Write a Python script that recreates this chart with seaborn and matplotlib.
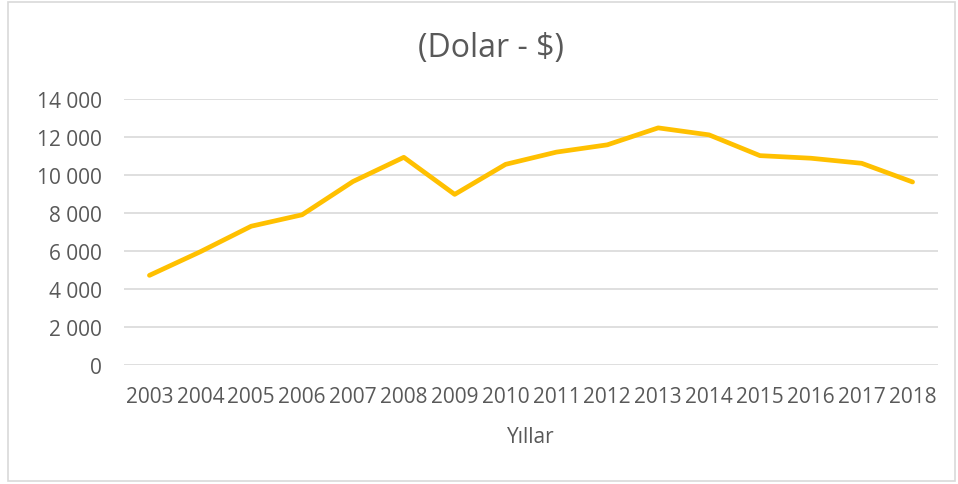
import matplotlib
matplotlib.use("Agg")
import matplotlib.pyplot as plt
import matplotlib.ticker as mticker
import seaborn as sns
import pandas as pd

years = ["2003", "2004", "2005", "2006", "2007", "2008", "2009", "2010",
         "2011", "2012", "2013", "2014", "2015", "2016", "2017", "2018"]
values = [4718, 5961, 7304, 7906, 9656, 10931, 8980, 10560,
          11205, 11588, 12480, 12112, 11019, 10883, 10616, 9632]
y_ticks = [0, 2000, 4000, 6000, 8000, 10000, 12000, 14000]
title = "(Dolar - $)"
xlabel = "Yıllar"

sns.set_theme(style="white")
plt.rcParams['font.family'] = ['Open Sans', 'DejaVu Sans']

df = pd.DataFrame({"Yıl": years, "Değer": values})

fig = plt.figure(figsize=(9.58, 4.85), dpi=100)
ax = fig.add_axes([124/958, 1-366/485, (938-124)/958, (366-100)/485])

sns.lineplot(data=df, x="Yıl", y="Değer", ax=ax, color="#FFC000",
             linewidth=3.4, sort=False)

ax.set_xlim(-0.5, len(years)-0.5)
ax.set_ylim(0, 14000)
ax.set_yticks(y_ticks)
ax.yaxis.set_major_formatter(mticker.FuncFormatter(lambda v, p: f"{int(v):,}".replace(",", " ")))
ax.grid(axis="y", color="#D9D9D9", linewidth=1.2)
ax.set_axisbelow(True)
for s in ax.spines.values():
    s.set_visible(False)
ax.tick_params(axis="both", length=0, labelsize=15, colors="#595959")
ax.tick_params(axis="y", pad=16)
ax.tick_params(axis="x", pad=15)
ax.set_xlabel(xlabel, fontsize=15, color="#595959", labelpad=14)
ax.set_ylabel("")
fig.text(491/958, 1-48/485, title, ha="center", va="center", fontsize=23, color="#595959")

border = plt.Rectangle((8/958, 3/485), (955-8)/958, (482-3)/485, transform=fig.transFigure,
                       fill=False, edgecolor="#D9D9D9", linewidth=1.2)
fig.add_artist(border)

fig.savefig("out.png", dpi=100, facecolor="white")
